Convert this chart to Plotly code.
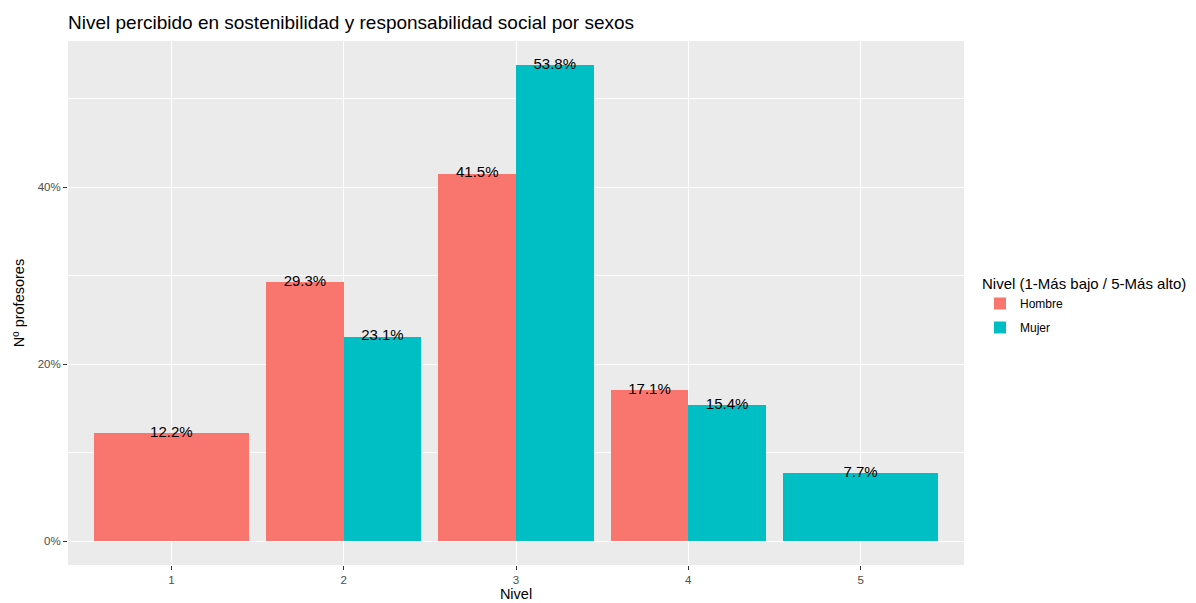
import plotly.graph_objects as go

niveles = [1, 2, 3, 4, 5]
sexos = ["Hombre", "Mujer"]
hombre = [12.2, 29.3, 41.5, 17.1, None]
mujer = [None, 23.1, 53.8, 15.4, 7.7]
colores = {"Hombre": "#F8766D", "Mujer": "#00BFC4"}
tick_y = [0, 20, 40]
minor_y = [10, 30, 50]

series = {"Hombre": hombre, "Mujer": mujer}

# ggplot2 position_dodge logic (total width 0.9)
DODGE = 0.9
pos = {s: ([], [], []) for s in sexos}
for i, nv in enumerate(niveles):
    present = [s for s in sexos if series[s][i] is not None]
    n = len(present)
    w = DODGE / n
    for j, s in enumerate(present):
        xs, ys, ws = pos[s]
        xs.append(nv - DODGE / 2 + (j + 0.5) * w)
        ys.append(series[s][i])
        ws.append(w)

fig = go.Figure()
for s in sexos:
    xs, ys, ws = pos[s]
    fig.add_trace(go.Bar(x=xs, y=ys, width=ws, name=s, legendgroup=s,
                         marker=dict(color=colores[s], line=dict(width=0))))
for s in sexos:
    xs, ys, ws = pos[s]
    fig.add_trace(go.Scatter(x=xs, y=ys, mode="text",
                             text=[f"{v:.1f}%" for v in ys],
                             textposition="middle center",
                             textfont=dict(family="Liberation Sans", size=15, color="black"),
                             showlegend=False, hoverinfo="skip"))

ymax = max(v for v in hombre + mujer if v is not None)
pad = ymax * 0.05

fig.update_layout(
    width=1196, height=603,
    margin=dict(l=68, r=232, t=41, b=37.5),
    paper_bgcolor="white", plot_bgcolor="#EBEBEB",
    font=dict(family="Liberation Sans", color="black"),
    title=dict(text="Nivel percibido en sostenibilidad y responsabilidad social por sexos",
               xref="paper", x=0, xanchor="left", yref="container", y=1 - 22 / 603, yanchor="middle",
               pad=dict(l=0, r=0, t=0, b=0),
               font=dict(size=19, color="black")),
    barmode="overlay", bargap=0,
    showlegend=True,
    legend=dict(title=dict(text="Nivel (1-Más bajo / 5-Más alto)", font=dict(size=15)),
                font=dict(size=12), xref="container", x=980 / 1196, xanchor="left",
                yref="container", y=0.553, yanchor="top",
                bgcolor="rgba(0,0,0,0)", itemwidth=30, tracegroupgap=5),
)
fig.update_xaxes(range=[0.4, 5.6], tickvals=niveles, ticktext=[str(n) for n in niveles],
                 showgrid=True, gridcolor="white", gridwidth=1.1, zeroline=False,
                 automargin=False,
                 ticks="outside", ticklen=4, tickcolor="#333333", tickwidth=1,
                 tickfont=dict(size=11.5, color="#4D4D4D"),
                 title=dict(text="Nivel", font=dict(size=14.5), standoff=4))
fig.update_yaxes(range=[-pad, ymax + pad], tickvals=tick_y,
                 ticktext=[f"{t}%" for t in tick_y],
                 showgrid=True, gridcolor="white", gridwidth=1.1, zeroline=False,
                 automargin=False,
                 minor=dict(tickvals=minor_y, showgrid=True, gridcolor="white", gridwidth=0.5, ticks=""),
                 ticks="outside", ticklen=4, tickcolor="#333333", tickwidth=1,
                 tickfont=dict(size=11.5, color="#4D4D4D"),
                 title=dict(text="Nº profesores", font=dict(size=14.5), standoff=9))
fig.write_html("out.html", config={"displayModeBar": False},
               post_script="document.body.style.margin='0';document.body.style.overflow='hidden';")
